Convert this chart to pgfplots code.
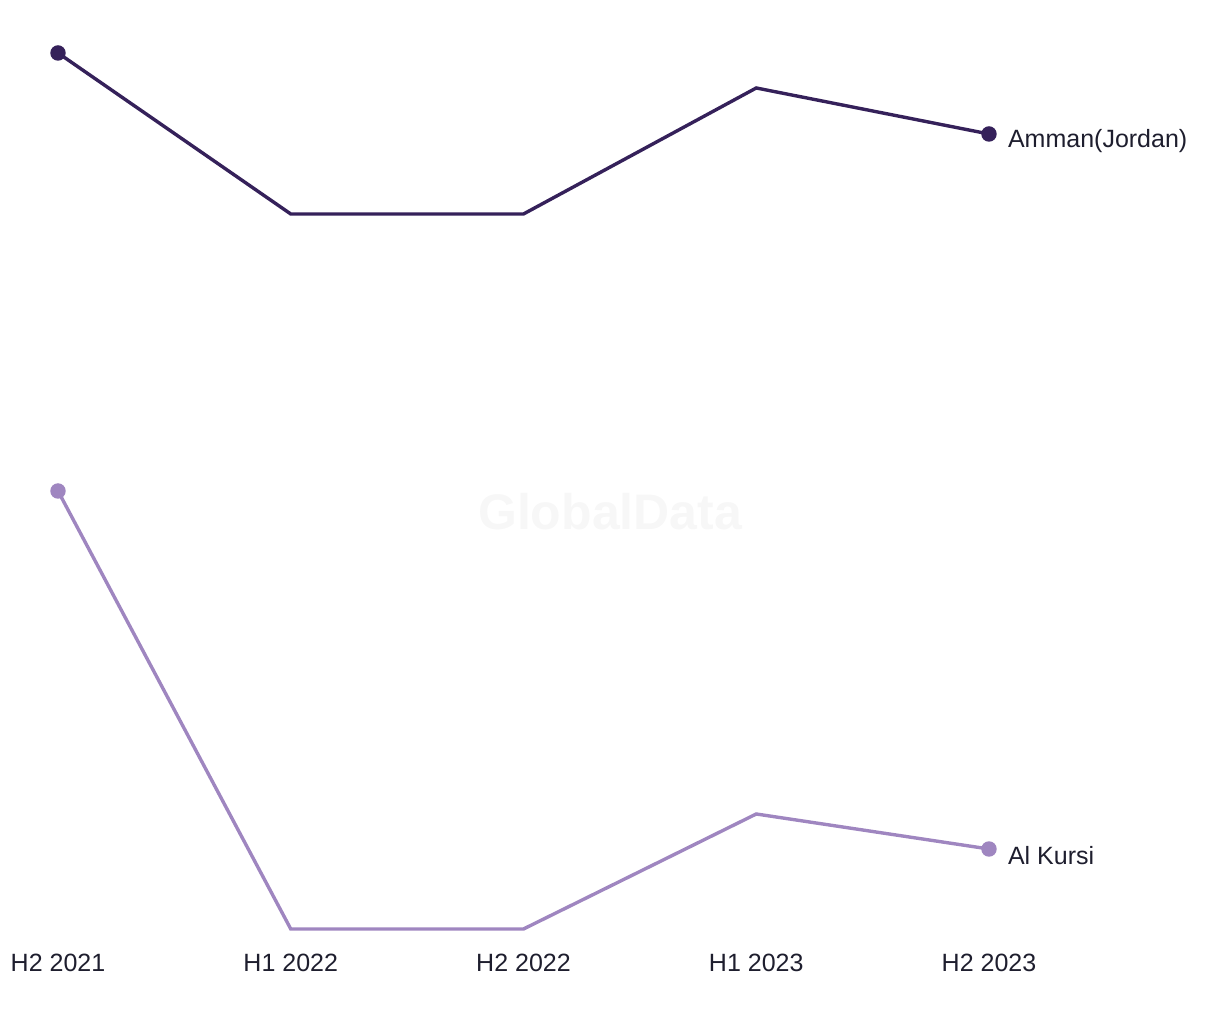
\documentclass[border=0pt]{standalone}
\usepackage{pgfplots}
\pgfplotsset{compat=1.18}
\usepackage{fontspec}
\setmainfont{Liberation Sans}
\definecolor{darkp}{HTML}{35215A}
\definecolor{lightp}{HTML}{9F86C0}
\definecolor{txt}{HTML}{1E1E2E}
\begin{document}
\begin{tikzpicture}
\path[use as bounding box] (0,0) rectangle (610pt,510pt);
\begin{axis}[
  at={(29pt,40pt)}, anchor=south west,
  scale only axis, width=465.5pt, height=470pt,
  xmin=0, xmax=4, ymin=80, ymax=1020,
  clip=false,
  axis line style={draw=none},
  tick style={draw=none},
  ytick=\empty,
  xtick={0,1,2,3,4},
  xticklabels={H2 2021,H1 2022,H2 2022,H1 2023,H2 2023},
  xticklabel style={font=\fontsize{12.5}{15}\selectfont, text=txt, anchor=north, yshift=-3.5pt},
  /pgf/number format/assume math mode=true,
]
\node[text=black!3, font=\bfseries\fontsize{25}{29}\selectfont] at (axis cs:2.372,508) {GlobalData};
\addplot[color=darkp, line width=1.7pt, mark=*, mark size=3pt,
  mark indices={1,5}] coordinates {(0,967) (1,806) (2,806) (3,932) (4,886)};
\addplot[color=lightp, line width=1.7pt, mark=*, mark size=3pt,
  mark indices={1,5}] coordinates {(0,529) (1,91) (2,91) (3,206) (4,171)};
\node[anchor=west, text=txt, font=\fontsize{12.5}{15}\selectfont, xshift=6pt, yshift=-3.5pt] at (axis cs:4,886) {Amman(Jordan)};
\node[anchor=west, text=txt, font=\fontsize{12.5}{15}\selectfont, xshift=6pt, yshift=-3.5pt] at (axis cs:4,171) {Al Kursi};
\end{axis}
\end{tikzpicture}
\end{document}
